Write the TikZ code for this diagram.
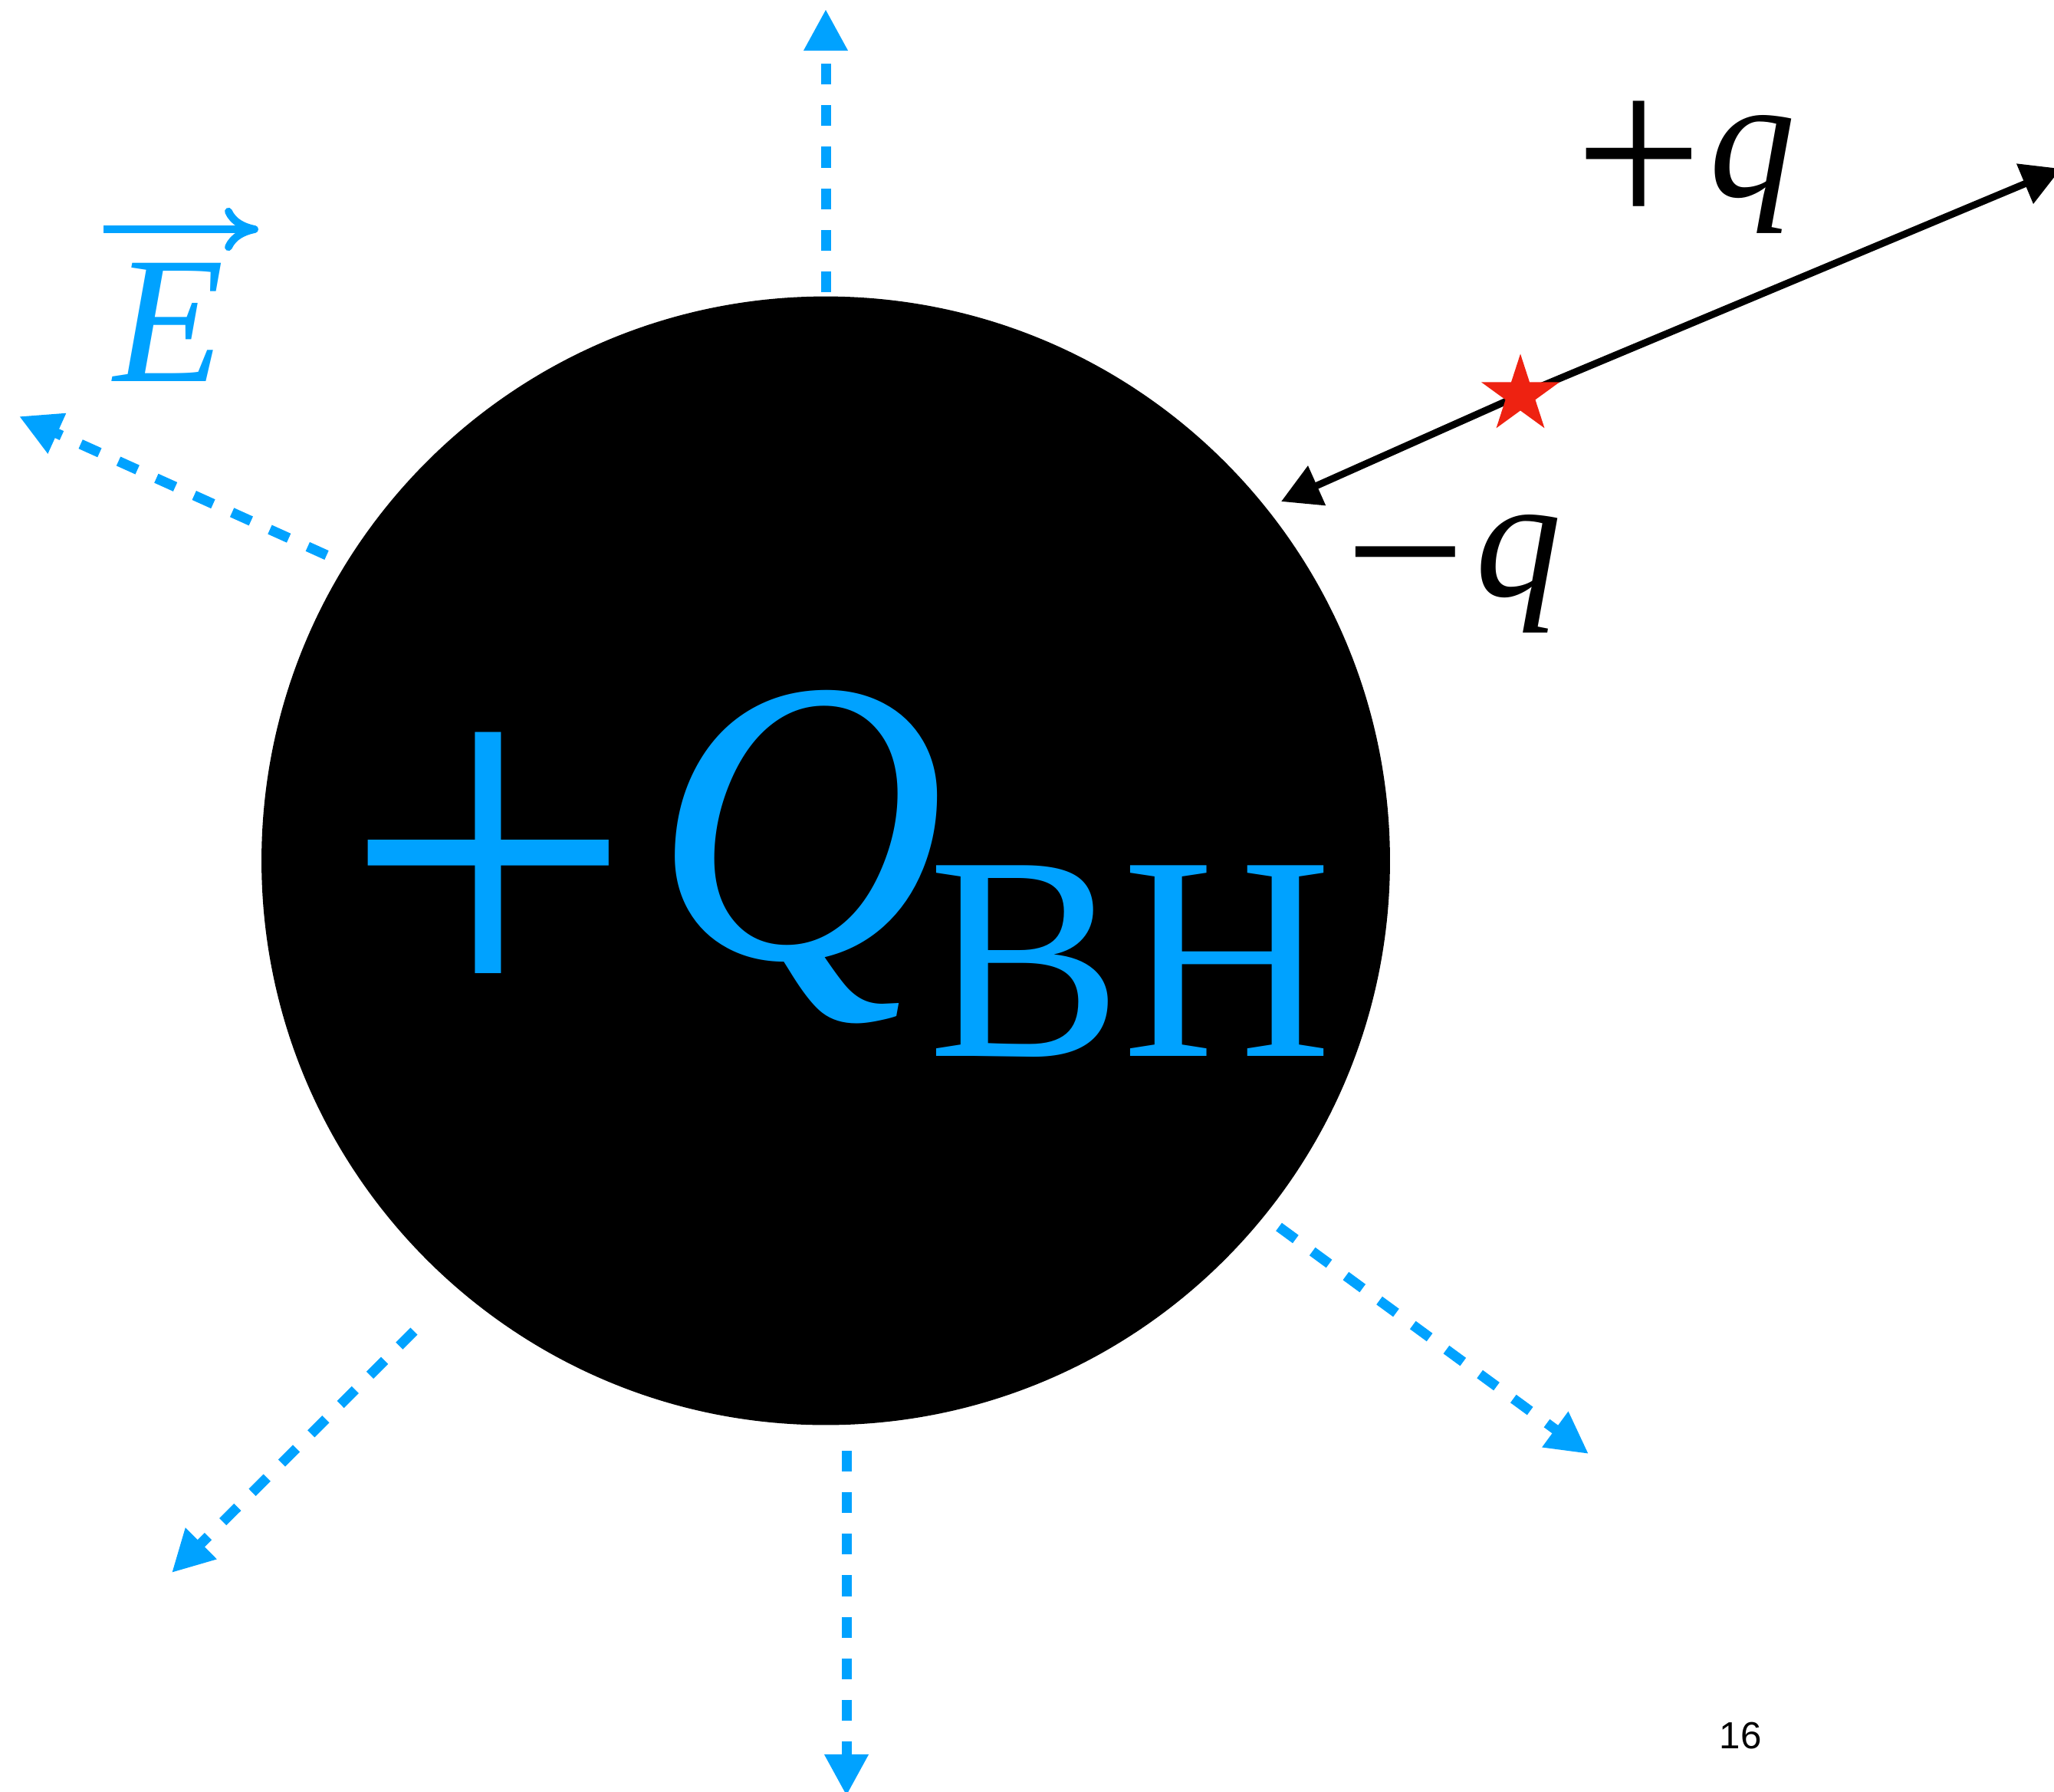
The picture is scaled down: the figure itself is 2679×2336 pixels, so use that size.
\documentclass[tikz,border=0pt]{standalone}
\usepackage{graphicx}
\usepackage{fontspec}
\setmainfont{Liberation Serif}
\newfontfamily\pagefont{Liberation Sans}
\usetikzlibrary{arrows.meta,shapes.geometric,calc}
\definecolor{fieldblue}{RGB}{0,162,255}
\definecolor{pairred}{RGB}{238,34,17}
\newcommand{\bigsign}[2]{\raisebox{#1}{\scalebox{#2}{+}}}

\begin{document}
\begin{tikzpicture}[
  x=0.01cm, y=-0.01cm,
  field/.style={fieldblue, line width=3.7pt, dash pattern=on 7.7pt off 7.7pt, -{Triangle[length=15.4pt,width=15.4pt]}},
  pairline/.style={black, line width=2.6pt, -{Triangle[length=14.5pt,width=15.5pt]}},
  vecline/.style={fieldblue, line width=2.8pt, -{To[length=12.5pt,width=16pt]}},
  charge/.style={inner sep=0pt, anchor=base west, font=\fontsize{64}{70}\selectfont},
  redstar/.style={star, star points=5, star point ratio=2.618, fill=pairred, inner sep=0pt, minimum size=1.07cm}
]
\useasboundingbox (0,0) rectangle (2679,2336);

\node[circle, fill=black, inner sep=0pt, minimum size=14.71cm] (bh) at (1077,1122.5) {};
\node[inner sep=0pt, anchor=base west, text=fieldblue, font=\fontsize{150}{150}\selectfont] (qbh) at (446,1249)
  {\bigsign{-25pt}{1.28}\hspace{6.8pt}\textit{Q}\hspace{-6.3pt}\raisebox{-36.5pt}{\fontsize{108}{108}\selectfont BH}};

% field lines
\coordinate (up0) at (1077,381);  \coordinate (up1) at (1077,12);
\coordinate (ul0) at (426,724);   \coordinate (ul1) at (25,543);
\coordinate (dl0) at (540,1736);  \coordinate (dl1) at (224,2051);
\coordinate (dn0) at (1104,1892); \coordinate (dn1) at (1104,2342);
\coordinate (dr0) at (1668,1600); \coordinate (dr1) at (2072,1896);
\foreach \dir in {up,ul,dl,dn,dr}
  \draw[field] (\dir0) -- (\dir1);

\node[charge, text=fieldblue, font=\fontsize{67}{70}\selectfont] (efield) at (148,497) {\textit{E}};
\draw[vecline] ($(efield.base west)+(-13,-198)$) -- ($(efield.base west)+(189,-198)$);

% pair creation
\coordinate (split) at (1983,515);
\coordinate (qminus) at (1671,654);
\coordinate (qplus) at (2688,220);
\draw[pairline] (split) -- (qminus);
\draw[pairline] (split) -- (qplus);
\node[redstar] (pair) at (split) {};

\node[charge] (plusq) at (2054,256) {\bigsign{-12.2pt}{1.31}\hspace{2.3pt}\textit{q}};
\node[charge] (minusq) at (1754,777) {\raisebox{-10pt}{\scalebox{1.24}{−}}\hspace{3.5pt}\textit{q}};

\node[font=\pagefont\fontsize{14}{16}\selectfont, inner sep=0pt] (pagenum) at (2270,2264) {16};
\end{tikzpicture}
\end{document}
